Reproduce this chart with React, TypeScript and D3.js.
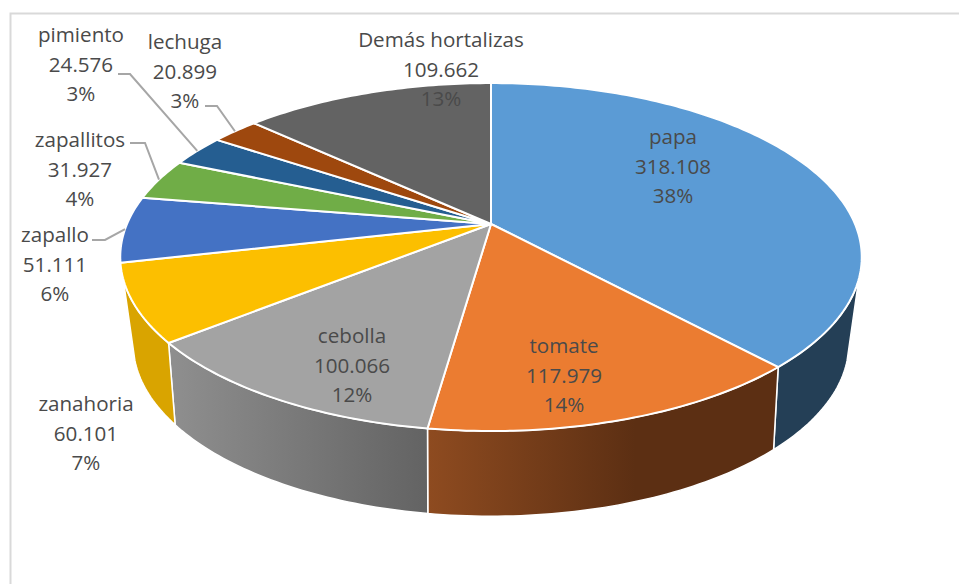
import React from "react";
import * as d3 from "d3";

const categories = ["papa", "tomate", "cebolla", "zanahoria", "zapallo", "zapallitos", "pimiento", "lechuga", "Demás hortalizas"];
const values = [318108, 117979, 100066, 60101, 51111, 31927, 24576, 20899, 109662];
const colors = ["#5b9bd5", "#eb7c31", "#a3a3a3", "#fcbf00", "#4472c4", "#70ad47", "#255e91", "#9e480e", "#636363"];
const wallFrom = ["#243f56", "#8e4b20", "#8e8e8e", "#d9a400", "#4472c4", "#70ad47", "#255e91", "#9e480e", "#636363"];
const wallTo = ["#243f56", "#5c2f13", "#636363", "#d9a400", "#4472c4", "#70ad47", "#255e91", "#9e480e", "#636363"];

// label layout, in category order: centre x, first-line baseline y
const labelX = [673, 564, 352, 86, 55, 80, 81, 185, 441];
const labelY = [144, 353, 343, 411, 242, 147, 42, 49, 47];
// leader lines: [start x, elbow x, y]
const leaders: Record<number, [number, number, number]> = {
  4: [92, 105, 240],
  5: [130, 145, 143],
  6: [118, 130, 74],
  7: [205, 217, 106],
};

const W = 959;
const H = 584;
const top = { cx: 491, cy: 224, a: 364, b: 167.7, k: -0.19 };
const bot = { cx: 491, cy: 306, a: 349, b: 164, k: -0.22 };
const WALL_START = (108 * Math.PI) / 180;
const WALL_END = (252 * Math.PI) / 180;

type Disc = typeof top;
const project = (d: Disc, t: number): [number, number] => {
  const u = Math.sin(t);
  const v = -Math.cos(t);
  const w = 1 + d.k * v;
  return [d.cx + (d.a * u) / w, d.cy + (d.b * v) / w];
};
const sample = (d: Disc, a0: number, a1: number): [number, number][] => {
  const n = Math.max(2, Math.ceil(((a1 - a0) * 180) / Math.PI));
  return d3.range(n + 1).map((i) => project(d, a0 + ((a1 - a0) * i) / n));
};
const line = d3.line();
const numFmt = d3.formatLocale({ decimal: ",", thousands: ".", grouping: [3], currency: ["", ""] }).format(",d");

export default function App() {
  const total = d3.sum(values);
  const arcs = d3.pie<number>().sort(null).value((d) => d)(values);
  const pct = d3.format(".0%");
  return (
    <svg
      width={W}
      height={H}
      viewBox={`0 0 ${W} ${H}`}
      style={{ position: "fixed", left: 0, top: 0, background: "#fff" }}
      fontFamily="'Open Sans', sans-serif"
      fontSize={20.6}
    >
      <path d={`M10.5 ${H}V13.5H${W}`} fill="none" stroke="#d9d9d9" strokeWidth={2} />
      <defs>
        {arcs.map((a, i) => {
          const s = Math.max(a.startAngle, WALL_START);
          const e = Math.min(a.endAngle, WALL_END);
          if (s >= e) return null;
          const p0 = project(bot, s);
          const p1 = project(bot, e);
          const x0 = Math.min(p0[0], p1[0]);
          const x1 = Math.max(p0[0], p1[0]);
          return (
            <linearGradient key={i} id={`wall${i}`} gradientUnits="userSpaceOnUse" x1={x0} x2={i === 1 ? x0 + (x1 - x0) * 0.6 : x1} y1={0} y2={0}>
              <stop offset="0" stopColor={wallFrom[i]} />
              <stop offset="1" stopColor={wallTo[i]} />
            </linearGradient>
          );
        })}
      </defs>
      {arcs.map((a, i) => {
        const s = Math.max(a.startAngle, WALL_START);
        const e = Math.min(a.endAngle, WALL_END);
        if (s >= e) return null;
        const pts = [...sample(top, s, e), ...sample(bot, s, e).reverse()];
        return <path key={i} d={line(pts) + "Z"} fill={`url(#wall${i})`} stroke="#fff" strokeWidth={1.5} strokeLinejoin="round" />;
      })}
      {arcs.map((a, i) => {
        const pts: [number, number][] = [[top.cx, top.cy], ...sample(top, a.startAngle, a.endAngle)];
        return <path key={i} d={line(pts) + "Z"} fill={colors[i]} stroke="#fff" strokeWidth={2} strokeLinejoin="round" />;
      })}
      {Object.entries(leaders).map(([k, [x0, x1, y]]) => {
        const a = arcs[+k];
        const p = project(top, (a.startAngle + a.endAngle) / 2);
        return <path key={k} d={line([[x0, y], [x1, y], p])!} fill="none" stroke="#a6a6a6" strokeWidth={2} />;
      })}
      {categories.map((c, i) => (
        <text key={c} x={labelX[i]} y={labelY[i]} textAnchor="middle" fill="#4a4a4a">
          <tspan x={labelX[i]}>{c}</tspan>
          <tspan x={labelX[i]} dy={29.5}>{numFmt(values[i])}</tspan>
          <tspan x={labelX[i]} dy={29.5}>{pct(values[i] / total)}</tspan>
        </text>
      ))}
    </svg>
  );
}
